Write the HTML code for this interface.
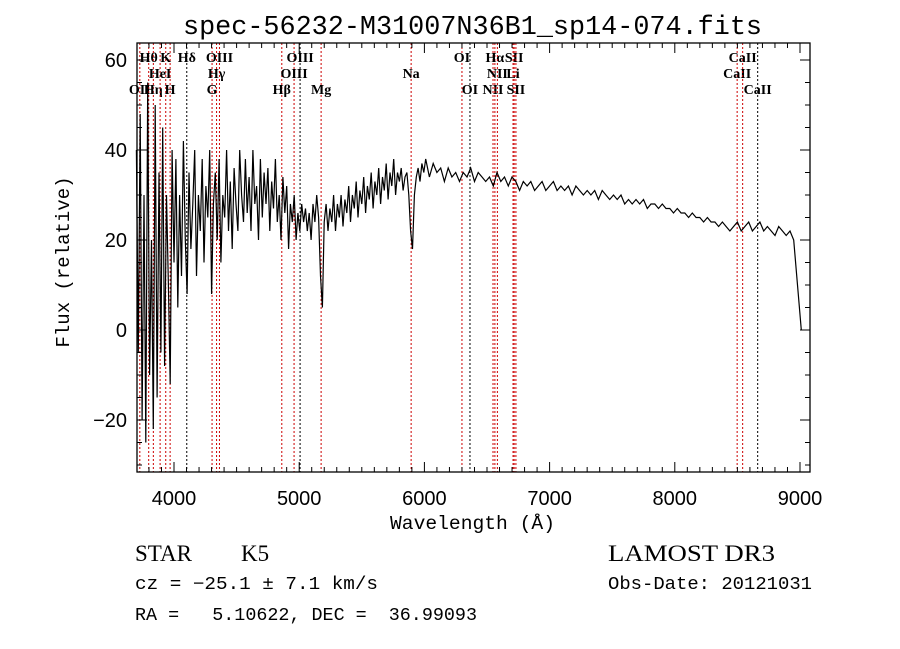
<!DOCTYPE html>
<html><head><meta charset="utf-8"><style>
body{margin:0;background:#fff;}
svg{display:block;}
text{font-family:"Liberation Sans",sans-serif;fill:#000;white-space:pre;}
.m{font-family:"Liberation Mono",monospace;}
.s{font-family:"Liberation Serif",serif;}
</style></head><body>
<svg id="c" width="900" height="649" xmlns="http://www.w3.org/2000/svg" xml:space="preserve">
<text class="m" x="183" y="34" font-size="27" textLength="579" lengthAdjust="spacingAndGlyphs">spec-56232-M31007N36B1_sp14-074.fits</text>
<text class="m" x="390" y="529" font-size="19" textLength="165" lengthAdjust="spacingAndGlyphs">Wavelength (Å)</text>
<text class="m" x="0" y="0" font-size="19" text-anchor="middle" transform="translate(69,262) rotate(-90)">Flux (relative)</text>
<text class="s" x="135" y="561" font-size="23">STAR</text>
<text class="s" x="241" y="561" font-size="23">K5</text>
<text class="s" x="608" y="561" font-size="23" textLength="167" lengthAdjust="spacingAndGlyphs">LAMOST DR3</text>
<text class="m" x="135" y="589" font-size="18" textLength="243" lengthAdjust="spacingAndGlyphs">cz = −25.1 ± 7.1 km/s</text>
<text class="m" x="608" y="589" font-size="18" textLength="204" lengthAdjust="spacingAndGlyphs">Obs-Date: 20121031</text>
<text class="m" x="135" y="620" font-size="18" textLength="342" lengthAdjust="spacingAndGlyphs">RA =   5.10622, DEC =  36.99093</text>
</svg>
<script>
const blueFlux=[40,-5,48,-20,30,-25,55,-10,20,-22,
50,-15,35,-5,45,-8,30,10,-12,40,
15,38,5,30,12,42,20,8,35,18,
28,40,12,30,22,38,15,32,25,40,
8,28,35,20,38,15,30,25,40,22,
33,18,36,28,22,40,30,24,38,26,
34,22,40,28,32,20,38,25,35,28,
36,22,33,27,38,24,30,20,34,26,
32,18,28,24,30,20,26,22,28,24,
27,22,26,20,28,24,30,25,12,5,
24,28,22,27,24,30,22,28,25,30,
23,29,26,32,24,30,27,33,25,31,
28,34,26,32,29,35,27,33,30,36,
28,34,31,37,29,35,32,38,30,35,
33,36,31,34,35,30,22,18,30,34,
36,33,37,35];
const blueStart=3700, blueStep=15;
const redFlux=[38,34,37,35,36,33,36,34,35,33,35,34,36,33,35,34,33,
34,32,35,33,34,32,34,33,31,33,32,33,31,32,33,31,32,
33,31,32,31,32,30,32,31,30,31,30,31,29,31,30,29,30,
29,30,28,29,28,29,28,29,27,28,28,27,28,27,27,26,27,
26,26,25,26,25,25,24,25,24,24,23,24,23,22,23,24,22,
23,24,22,23,24,22,23,22,21,23,22,21,22,20,10,0];
const redStart=6010, redStep=30;
const xTicks=[4000,5000,6000,7000,8000,9000];
const yTicks=[-20,0,20,40,60];
const lineWaves=[3727,3798,3835,3889,3934,3969,4102,4304,4340,4363,4861,4959,5007,5175,5894,6300,6364,6548,6563,6583,6708,6717,6731,8498,8542,8662];
const lineNames=["OII","Hθ","Hη","HeI","K","H","Hδ","G","Hγ","OIII","Hβ","OIII","OIII","Mg","Na","OI","OI","NII","Hα","NII","Li","SII","SII","CaII","CaII","CaII"];
const lineRow=[2,0,2,1,0,2,0,2,1,0,2,1,0,2,1,0,2,2,0,1,1,0,2,1,0,2];
const lineBlack=[0,0,0,0,0,0,1,0,0,0,0,0,1,0,0,0,1,0,0,0,0,0,0,0,0,1];
const L=137,R=810,T=43,B=472;
const X=w=>174+(w-4000)*0.1252;
const Y=v=>330-v*4.5;
const svg=document.getElementById('c');
const NS='http://www.w3.org/2000/svg';
function mk(t,a){const e=document.createElementNS(NS,t);for(const k in a)e.setAttribute(k,a[k]);svg.appendChild(e);return e;}
lineWaves.forEach((w,i)=>{
 const x=X(w);
 const l=mk('line',{x1:x,x2:x,y1:T,y2:B,stroke:lineBlack[i]?'#000':'#c00','stroke-width':1,'stroke-dasharray':'2,2'});
 
 
 const t=mk('text',{x:x,y:62+lineRow[i]*16,'font-size':14,'text-anchor':'middle',class:'s','font-weight':'bold'});
 t.textContent=lineNames[i];
 
 
});
let pts=[];
blueFlux.forEach((v,i)=>pts.push([X(blueStart+i*blueStep),Y(v)]));
redFlux.forEach((v,i)=>pts.push([X(redStart+i*redStep),Y(v)]));
let d='';
pts.forEach((p,i)=>{const y=Math.max(T,Math.min(B,p[1]));d+=(i?'L':'M')+p[0].toFixed(1)+','+y.toFixed(1);});
const p=mk('path',{d:d,fill:'none',stroke:'#000','stroke-width':1.2});


const f=mk('rect',{x:L,y:T,width:R-L,height:B-T,fill:'none',stroke:'#000','stroke-width':1.3});


for(let w=3800;w<=9000;w+=100){const x=X(w);const maj=w%1000==0;const len=maj?10:5;
 mk('line',{x1:x,x2:x,y1:B,y2:B-len,stroke:'#000'});mk('line',{x1:x,x2:x,y1:T,y2:T+len,stroke:'#000'});}
xTicks.forEach(w=>{const t=mk('text',{x:X(w),y:505,'font-size':20,'text-anchor':'middle'});t.textContent=w;
 
 });
for(let v=-30;v<=60;v+=5){const y=Y(v);const maj=v%20==0;const len=maj?10:5;
 mk('line',{x1:L,x2:L+len,y1:y,y2:y,stroke:'#000'});mk('line',{x1:R,x2:R-len,y1:y,y2:y,stroke:'#000'});}
yTicks.forEach(v=>{const t=mk('text',{x:127,y:Y(v)+7,'font-size':20,'text-anchor':'end'});t.textContent=v<0?'−'+(-v):v;
 
 });
</script>
</body></html>
